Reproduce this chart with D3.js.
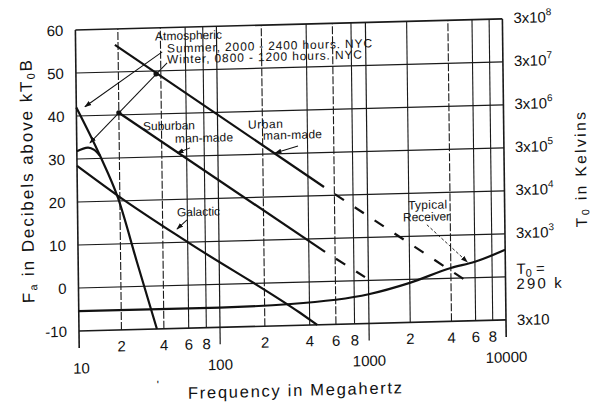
<!DOCTYPE html>
<html>
<head>
<meta charset="utf-8">
<script src="https://cdn.jsdelivr.net/npm/d3@7"></script>
<style>
  body { margin: 0; background: #fff; }
  svg text { font-family: "Liberation Sans", Arial, sans-serif; fill: #111; }
</style>
</head>
<body>
<div id="chart"></div>
<script>
// noise figure Fa (dB above kT0B) against frequency (MHz)
const atmSummerFreq = [10, 14.6, 19.4, 26.1, 35.7]
const atmSummerDb = [42, 30.6, 20.7, 5.7, -10]
const atmWinterFreq = [10, 12, 13.3, 14.6]
const atmWinterDb = [31.8, 32.6, 32.0, 30.6]
const galacticFreq = [10, 19.4, 60, 345, 449]
const galacticDb = [28.4, 21.2, 10.0, -7.1, -10]
const suburbanFreq = [20, 514]
const suburbanDb = [40.5, 6.9]
const suburbanExtFreq = [514, 948]
const suburbanExtDb = [6.9, 0.8]
const urbanFreq = [19, 512]
const urbanDb = [56.3, 22.0]
const urbanExtFreq = [512, 5070]
const urbanExtDb = [22.0, -0.5]
const receiverFreq = [10, 100, 300, 1000, 2000, 4000, 6000, 10000]
const receiverDb = [-5.4, -5.4, -5.0, -3.2, -0.8, 2.4, 3.7, 6.3]
const dotFreq = [20, 37]
const dotDb = [40.5, 49.3]

const dbTicks = [-10, 0, 10, 20, 30, 40, 50, 60]
const kelvinDb = [60, 50, 40, 30, 20, 10]
const kelvinExp = ["8", "7", "6", "5", "4", "3"]
const decadeTicks = [10, 100, 1000, 10000]
const minorTicks = [20, 40, 60, 80, 200, 400, 600, 800, 2000, 4000, 6000, 8000]
const dashedGrid = [20, 40, 200, 600, 4000]

// leader arrows: [fromFreq, fromDb, toFreq, toDb]
const leaders = [
  [41.1, 54.4, 11.5, 42.1],
  [44.4, 51.8, 12.4, 33.65],
  [63.5, 31.9, 51.4, 30.8],
  [345, 31.7, 242, 30.2],
  [59.6, 15.2, 50.5, 13.1]
]
const receiverLeader = [2698, 12.6, 5280, 3.7]

const zip = (a, b) => a.map((v, i) => [v, b[i]])

const svg = d3.select("#chart").append("svg")
  .attr("width", 593).attr("height", 403)

svg.append("defs").append("marker")
  .attr("id", "ah").attr("viewBox", "0 0 10 10")
  .attr("refX", 9).attr("refY", 5)
  .attr("markerWidth", 7).attr("markerHeight", 7)
  .attr("markerUnits", "userSpaceOnUse").attr("orient", "auto")
  .append("path").attr("d", "M0,1.5L10,5L0,8.5z").attr("fill", "#111")

// the scan is a little sheared, so the whole figure is too
const g = svg.append("g")
  .attr("transform", "translate(79,331) matrix(1,-0.026,0.012,1,0,0) translate(-79,-331)")

const x = d3.scaleLog().domain([10, 100, 1000, 10000]).range([79, 220, 369, 506])
const y = d3.scaleLinear().domain([-10, 60]).range([331, 30])

// grid
g.selectAll(".hgrid").data(dbTicks).enter().append("line")
  .attr("x1", x(10)).attr("x2", x(10000))
  .attr("y1", d => y(d)).attr("y2", d => y(d))
  .attr("stroke", "#1a1a1a")
  .attr("stroke-width", d => (d === -10 || d === 60) ? 1.6 : 1.2)

g.selectAll(".vgrid").data(minorTicks).enter().append("line")
  .attr("x1", d => x(d)).attr("x2", d => x(d))
  .attr("y1", y(-10)).attr("y2", y(60))
  .attr("stroke", "#1a1a1a").attr("stroke-width", 1.1)
  .attr("stroke-dasharray", d => dashedGrid.includes(d) ? "8 2" : null)

g.selectAll(".decade").data(decadeTicks).enter().append("line")
  .attr("x1", d => x(d)).attr("x2", d => x(d))
  .attr("y1", y(60)).attr("y2", 348)
  .attr("stroke", "#1a1a1a")
  .attr("stroke-width", d => (d === 10 || d === 10000) ? 1.6 : 1.2)

// tick labels
g.selectAll(".ylab").data(dbTicks).enter().append("text")
  .attr("x", 67).attr("y", d => y(d) + 5.5)
  .attr("text-anchor", "end").style("font-size", "15px")
  .text(d => d)

g.selectAll(".xminor").data(minorTicks).enter().append("text")
  .attr("x", d => x(d)).attr("y", 352.5)
  .attr("text-anchor", "middle").style("font-size", "15px")
  .text(d => Math.round(d / Math.pow(10, Math.floor(Math.log10(d)))))

g.selectAll(".xmajor").data(decadeTicks).enter().append("text")
  .attr("x", d => x(d) + (d === 10 ? 2 : 0)).attr("y", 373.5)
  .attr("text-anchor", "middle").style("font-size", "15px")
  .text(d => d)

const klab = g.selectAll(".klab").data(kelvinDb).enter().append("text")
  .attr("x", 517).attr("y", d => y(d) + 4.5)
  .style("font-size", "15px")
klab.append("tspan").text("3x10")
klab.append("tspan").attr("dy", -7).style("font-size", "10px")
  .text((d, i) => kelvinExp[i])

const t0 = g.append("text").attr("x", 517).attr("y", y(0) - 2.5).style("font-size", "15px")
t0.append("tspan").text("T")
t0.append("tspan").attr("dy", 3).style("font-size", "11px").text("0")
t0.append("tspan").attr("dy", -3).text(" =")
g.append("text").attr("x", 517).attr("y", y(0) + 12.4).style("font-size", "15px")
  .attr("textLength", 45).attr("lengthAdjust", "spacing").text("290 k")
g.append("text").attr("x", 517).attr("y", y(-10) + 5.5).style("font-size", "15px")
  .text("3x10")

// curves
const line = d3.line().x(d => x(d[0])).y(d => y(d[1]))
const smooth = d3.line().x(d => x(d[0])).y(d => y(d[1])).curve(d3.curveMonotoneX)

const curve = (pts, gen) => g.append("path").attr("d", gen(pts))
  .attr("fill", "none").attr("stroke", "#111").attr("stroke-width", 2.2)

curve(zip(atmSummerFreq, atmSummerDb), smooth)
curve(zip(atmWinterFreq, atmWinterDb), smooth)
curve(zip(galacticFreq, galacticDb), smooth)
curve(zip(suburbanFreq, suburbanDb), line)
curve(zip(urbanFreq, urbanDb), line)
curve(zip(receiverFreq, receiverDb), smooth)
curve(zip(suburbanExtFreq, suburbanExtDb), line)
  .attr("stroke-dasharray", "11 13").attr("stroke-dashoffset", 11)
curve(zip(urbanExtFreq, urbanExtDb), line)
  .attr("stroke-dasharray", "11 13").attr("stroke-dashoffset", 11)

g.selectAll(".dot").data(zip(dotFreq, dotDb)).enter().append("circle")
  .attr("cx", d => x(d[0])).attr("cy", d => y(d[1])).attr("r", 2.6)
  .attr("fill", "#111")

// leaders
g.selectAll(".leader").data(leaders).enter().append("line")
  .attr("x1", d => x(d[0])).attr("y1", d => y(d[1]))
  .attr("x2", d => x(d[2])).attr("y2", d => y(d[3]))
  .attr("stroke", "#111").attr("stroke-width", 1)
  .attr("marker-end", "url(#ah)")

g.append("line")
  .attr("x1", x(receiverLeader[0])).attr("y1", y(receiverLeader[1]))
  .attr("x2", x(receiverLeader[2])).attr("y2", y(receiverLeader[3]))
  .attr("stroke", "#111").attr("stroke-width", 0.9)
  .attr("stroke-dasharray", "3 2")
  .attr("marker-end", "url(#ah)")

// annotations
const note = (tx, tx0, ty, len) => g.append("text")
  .attr("x", tx0).attr("y", ty).style("font-size", "12px")
  .attr("textLength", len).attr("lengthAdjust", "spacing").text(tx)

note("Atmospheric", 158.5, 42.5, 67)
note("Summer, 2000 - 2400 hours. NYC", 170.4, 55, 205)
note("Winter, 0800 - 1200 hours. NYC", 170.2, 66, 195)
note("Suburban", 145.4, 132.3, 52)
note("man-made", 177.3, 145.3, 58)
note("Urban", 250.4, 133.3, 35)
note("man-made", 265.3, 144.5, 59)
note("Galactic", 178.4, 219.1, 43)
note("Typical", 409.5, 218, 39)
note("Receiver", 404.3, 230, 47)

// axis titles
const ylab = g.append("text")
  .attr("transform", "translate(34.8,180.3) rotate(-90)")
  .attr("text-anchor", "middle").style("font-size", "17px")
  .attr("textLength", 243).attr("lengthAdjust", "spacing")
ylab.append("tspan").text("F")
ylab.append("tspan").attr("dy", 3).style("font-size", "11px").text("a")
ylab.append("tspan").attr("dy", -3).text(" in Decibels above kT")
ylab.append("tspan").attr("dy", 3).style("font-size", "11px").text("0")
ylab.append("tspan").attr("dy", -3).text("B")

const rlab = g.append("text")
  .attr("transform", "translate(588,182.7) rotate(-90)")
  .attr("text-anchor", "middle").style("font-size", "15.5px")
  .attr("textLength", 115).attr("lengthAdjust", "spacing")
rlab.append("tspan").text("T")
rlab.append("tspan").attr("dy", 2.5).style("font-size", "10.5px").text("0")
rlab.append("tspan").attr("dy", -2.5).text(" in Kelvins")

g.append("text").attr("x", 187.2).attr("y", 401.6)
  .style("font-size", "16.5px")
  .attr("textLength", 214).attr("lengthAdjust", "spacing")
  .text("Frequency in Megahertz")

g.append("text").attr("x", 156).attr("y", 391).style("font-size", "12px").text("'")
</script>
</body>
</html>
